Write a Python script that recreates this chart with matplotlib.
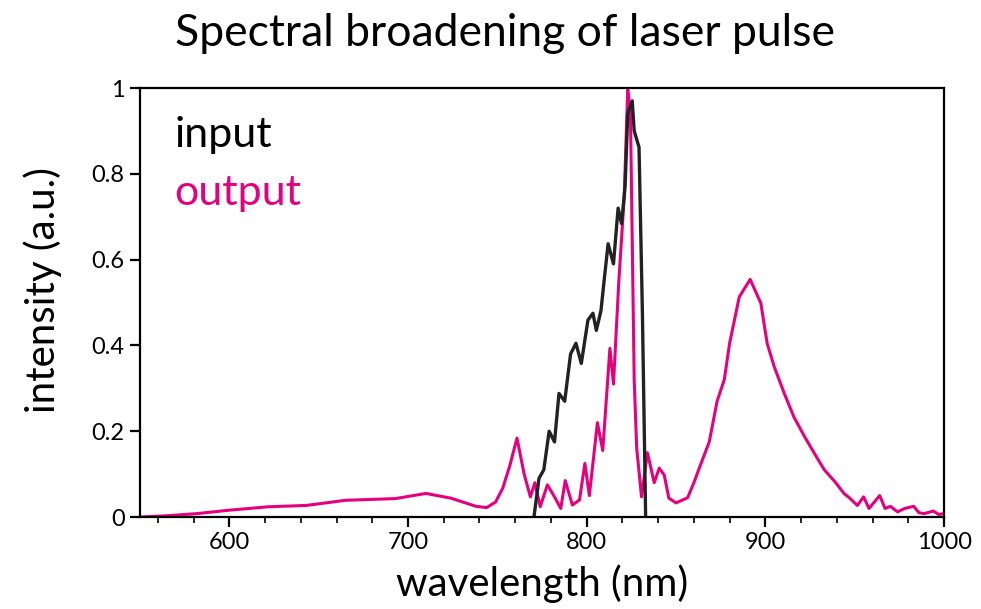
import matplotlib.pyplot as plt
from matplotlib.ticker import MultipleLocator, FuncFormatter

plt.rcParams['font.family'] = ['Lato', 'DejaVu Sans']

# input spectrum (black)
input_nm = [770.5, 773.3, 776, 779, 782, 784.5, 787.7, 791, 794, 797, 800.7, 803.5,
            805.4, 808, 810, 812, 815, 817.6, 819.5, 821.5, 823, 825.5, 826.6, 829.3,
            831.2, 833]
input_int = [0, 0.09, 0.11, 0.2, 0.175, 0.288, 0.27, 0.38, 0.405, 0.358, 0.459, 0.475,
             0.435, 0.481, 0.56, 0.637, 0.59, 0.72, 0.684, 0.77, 0.94, 0.97, 0.90, 0.862,
             0.475, 0]

# output spectrum (magenta)
output_nm = [550, 565, 582, 600, 622, 643, 665, 693, 710, 724, 738, 744, 749, 753, 757,
             761, 765, 768.5, 771, 774, 778, 782, 785.5, 788, 792, 796, 799, 801.5, 806,
             809, 813, 815, 818, 821, 823, 824.5, 826.6, 828, 830.7, 834, 837.8, 840.6,
             843.4, 846, 850, 856.5, 860, 864, 868.6, 873, 877, 880, 885.4, 891.5, 897.5,
             901, 905, 910.6, 916, 922, 927.5, 933, 939, 944, 947, 951.5, 955, 958, 961,
             964, 967, 970, 974, 978, 983, 986, 989, 994, 997, 1000]
output_int = [0, 0.003, 0.008, 0.016, 0.024, 0.027, 0.039, 0.043, 0.055, 0.044, 0.025,
              0.022, 0.035, 0.067, 0.12, 0.184, 0.10, 0.047, 0.08, 0.024, 0.075, 0.047,
              0.02, 0.085, 0.028, 0.04, 0.125, 0.05, 0.22, 0.155, 0.393, 0.31, 0.55, 0.745,
              1.0, 0.94, 0.32, 0.16, 0.047, 0.15, 0.08, 0.114, 0.098, 0.044, 0.033, 0.045,
              0.08, 0.125, 0.175, 0.27, 0.32, 0.405, 0.513, 0.554, 0.498, 0.405, 0.35,
              0.288, 0.233, 0.187, 0.148, 0.11, 0.082, 0.055, 0.045, 0.027, 0.047, 0.02,
              0.035, 0.05, 0.02, 0.025, 0.012, 0.02, 0.025, 0.01, 0.008, 0.014, 0.006, 0.008]

fig = plt.figure(figsize=(9.81, 6.09), dpi=100)
ax = fig.add_axes([0.1427, 0.151, 0.8196, 0.7045])

ax.plot(output_nm, output_int, color='#e6007e', linewidth=2.2)
ax.plot(input_nm, input_int, color='#222222', linewidth=2.4)

ax.set_xlim(550, 1000)
ax.set_ylim(0, 1)
ax.xaxis.set_major_locator(MultipleLocator(100))
ax.xaxis.set_minor_locator(MultipleLocator(20))
ax.yaxis.set_major_locator(MultipleLocator(0.2))
ax.yaxis.set_major_formatter(FuncFormatter(lambda v, p: f'{v:g}'))

for s in ax.spines.values():
    s.set_linewidth(1.6)
ax.tick_params(which='major', direction='out', length=7, width=1.6, labelsize=17, pad=4)
ax.tick_params(which='minor', direction='out', length=4, width=1.2)

ax.set_xlabel('wavelength (nm)', fontsize=29)
ax.xaxis.set_label_coords(0.5, -0.11)
ax.set_ylabel('intensity (a.u.)', fontsize=29)
ax.yaxis.set_label_coords(-0.097, 0.53)
fig.text(0.515, 0.945, 'Spectral broadening of laser pulse', fontsize=32,
         ha='center', va='center')

ax.text(0.043, 0.89, 'input', transform=ax.transAxes, fontsize=31,
        color='black', va='center')
ax.text(0.043, 0.755, 'output', transform=ax.transAxes, fontsize=31,
        color='#e6007e', va='center')

fig.savefig('out.png', dpi=100)
